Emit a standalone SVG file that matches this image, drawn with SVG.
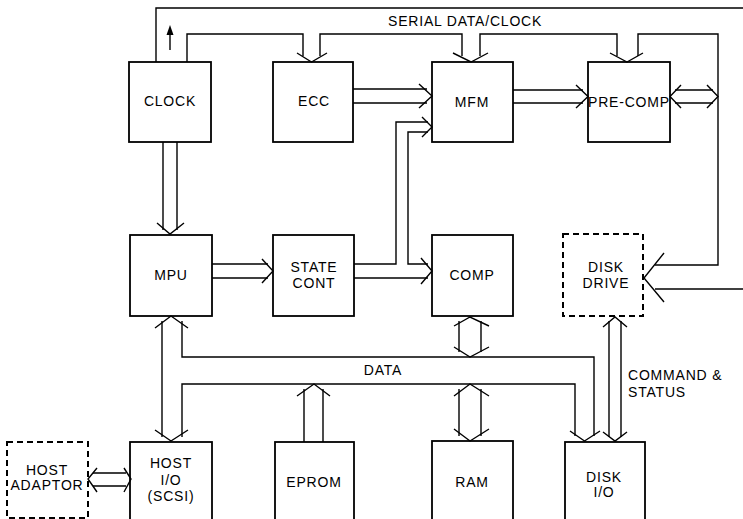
<svg xmlns="http://www.w3.org/2000/svg" width="743" height="519" viewBox="0 0 743 519">
<style>
.box{fill:none;stroke:#000;stroke-width:1.8}
.dash{fill:none;stroke:#000;stroke-width:2;stroke-dasharray:6 4}
.ln{fill:none;stroke:#000;stroke-width:1.4}
.ah{fill:none;stroke:#000;stroke-width:1.4;stroke-linejoin:miter}
text{font-family:"Liberation Sans",Arial,sans-serif;font-size:14px;fill:#000;letter-spacing:0.8px}
.c{text-anchor:middle}
</style>
<rect width="743" height="519" fill="#fff"/>
<g id="clock"><rect class="box" x="129" y="62" width="82" height="80"/><text class="c" x="170" y="106">CLOCK</text></g>
<g id="ecc"><rect class="box" x="273" y="62" width="80" height="80"/><text class="c" x="314" y="106">ECC</text></g>
<g id="mfm"><rect class="box" x="432" y="62" width="81" height="80"/><text class="c" x="472" y="107">MFM</text></g>
<g id="precomp"><rect class="box" x="588" y="62" width="82" height="80"/><text class="c" x="629" y="107">PRE-COMP</text></g>
<g id="mpu"><rect class="box" x="130" y="235" width="82" height="81"/><text class="c" x="171" y="280">MPU</text></g>
<g id="statecont"><rect class="box" x="273" y="235" width="81" height="81"/><text class="c" x="314" y="272">STATE</text><text class="c" x="314" y="288">CONT</text></g>
<g id="comp"><rect class="box" x="432" y="235" width="81" height="81"/><text class="c" x="472" y="280">COMP</text></g>
<g id="diskdrive"><rect class="dash" x="563" y="234" width="80" height="82"/><text class="c" x="606" y="272">DISK</text><text class="c" x="606" y="288">DRIVE</text></g>
<g id="hostadaptor"><rect class="dash" x="7" y="442" width="81" height="76"/><text class="c" x="47" y="475">HOST</text><text class="c" x="47" y="490">ADAPTOR</text></g>
<g id="hostio"><rect class="box" x="130" y="442" width="82" height="90"/><text class="c" x="171" y="468">HOST</text><text class="c" x="171" y="485">I/O</text><text class="c" x="171" y="501">(SCSI)</text></g>
<g id="eprom"><rect class="box" x="275" y="442" width="79" height="90"/><text class="c" x="314" y="487">EPROM</text></g>
<g id="ram"><rect class="box" x="432" y="441" width="81" height="90"/><text class="c" x="472" y="487">RAM</text></g>
<g id="diskio"><rect class="box" x="565" y="442" width="80" height="90"/><text class="c" x="604" y="482">DISK</text><text class="c" x="604" y="497">I/O</text></g>
<g id="connectors">
<!-- outer clock line -->
<polyline class="ln" points="156,62 156,8 743,8"/>
<path d="M170,50 V34" class="ln"/>
<polygon points="170,25 166.5,35 173.5,35" fill="#000"/>
<!-- serial data/clock bus -->
<polyline class="ln" points="187,62 187,34 303,34 303,56"/>
<polyline class="ln" points="320,56 320,34 462,34 462,56"/>
<polyline class="ln" points="480,56 480,34 617,34 617,56"/>
<polyline class="ln" points="638,56 638,34 718,34 718,265 655,265"/>
<polyline class="ah" points="297,53 311.5,62 327,53"/>
<polyline class="ah" points="453,53 471,62 488,53"/>
<polyline class="ah" points="610,53 627,62 643,53"/>
<text x="388" y="26">SERIAL DATA/CLOCK</text>
<!-- ECC to MFM -->
<path class="ln" d="M353,89 H427 M353,103 H427"/>
<polyline class="ah" points="419,84 432,96 419,108"/>
<!-- MFM to PRE-COMP -->
<path class="ln" d="M513,90 H583 M513,103 H583"/>
<polyline class="ah" points="576,85 588,96.5 576,108"/>
<!-- PRE-COMP to line -->
<path class="ln" d="M675,90 H713 M675,103 H713"/>
<polyline class="ah" points="681,85 670,96.5 681,108"/>
<polyline class="ah" points="707,85 718,96.5 707,108"/>
<!-- disk drive input -->
<path class="ln" d="M655,289 H743"/>
<polyline class="ah" points="664,253 644,278 664,302"/>
<!-- clock to MPU -->
<path class="ln" d="M163,142 V230 M177,142 V230"/>
<polyline class="ah" points="157,223 170,234 184,223"/>
<!-- MPU to STATE CONT -->
<path class="ln" d="M212,264 H268 M212,278 H268"/>
<polyline class="ah" points="262,259 273,271 262,283"/>
<!-- STATE CONT to MFM and COMP -->
<polyline class="ln" points="354,264 396,264 396,122 428,122"/>
<polyline class="ln" points="428,132 408,132 408,264 428,264"/>
<path class="ln" d="M354,278 H428"/>
<polyline class="ah" points="422,117 432,127 422,137"/>
<polyline class="ah" points="421,258 432,271 421,284"/>
<!-- DATA bus -->
<path class="ln" d="M162,321 V437"/>
<polyline class="ln" points="182,321 182,357 594,357 594,436"/>
<polyline class="ln" points="182,437 182,384 575,384 575,436"/>
<polyline class="ah" points="155,328 171,316 188,328"/>
<polyline class="ah" points="155,430 171,441 188,430"/>
<polyline class="ah" points="570,431 584.5,441 600,431"/>
<text class="c" x="383" y="375">DATA</text>
<!-- COMP <-> DATA -->
<path class="ln" d="M459,321 V352 M481,321 V352"/>
<polyline class="ah" points="454,326 470,317 489,326"/>
<polyline class="ah" points="454,347 470,357 489,347"/>
<!-- EPROM -> DATA -->
<path class="ln" d="M304,442 V389 M323,442 V389"/>
<polyline class="ah" points="297,396 314,384 330,396"/>
<!-- RAM <-> DATA -->
<path class="ln" d="M459,389 V436 M481,389 V436"/>
<polyline class="ah" points="454,396 470,384 489,396"/>
<polyline class="ah" points="454,429 470,441 489,429"/>
<!-- COMMAND & STATUS -->
<path class="ln" d="M609,321 V437 M621,321 V437"/>
<polyline class="ah" points="603,327 615,317 627,327"/>
<polyline class="ah" points="603,432 615,441 627,432"/>
<text x="628" y="380">COMMAND &amp;</text>
<text x="628" y="397">STATUS</text>
<!-- HOST ADAPTOR <-> HOST I/O -->
<path class="ln" d="M93,473 H126 M93,486 H126"/>
<polyline class="ah" points="97,468 88,479 97,492"/>
<polyline class="ah" points="124,468 131,479 124,492"/>
</g>
</svg>
